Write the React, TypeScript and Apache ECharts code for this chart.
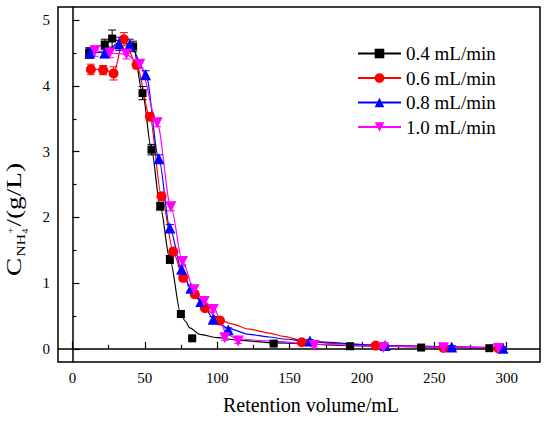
import React, { useEffect, useRef } from "react";
import * as echarts from "echarts";

const seriesNames = ["0.4 mL/min", "0.6 mL/min", "0.8 mL/min", "1.0 mL/min"];
const colors = ["#000000", "#ff0000", "#0000ff", "#ff00ff"];

const xTicks = [0, 50, 100, 150, 200, 250, 300];
const xMinorTicks = [25, 75, 125, 175, 225, 275];
const yTicks = [0, 1, 2, 3, 4, 5];
const yMinorTicks = [0.5, 1.5, 2.5, 3.5, 4.5];

// measured points [volume, concentration]
const pts04 = [[11.5, 4.5], [22.3, 4.63], [27.4, 4.72], [41.9, 4.6], [48.4, 3.89], [54.6, 3.03], [60.6, 2.17], [67.3, 1.36], [74.9, 0.53], [82.7, 0.16], [139, 0.08], [191.8, 0.04], [240.9, 0.02], [288, 0.01]];
const err04 = [0.08, 0.08, 0.13, 0.08, 0.1, 0.08, 0.06, 0.06, 0.05, 0.02, 0.02, 0.02, 0.01, 0.01];

const pts06 = [[12.7, 4.25], [21.2, 4.24], [28.4, 4.19], [35.5, 4.71], [44.3, 4.32], [53.5, 3.53], [61.5, 2.32], [69.6, 1.48], [76.5, 1.08], [84.5, 0.83], [91.5, 0.62], [101.9, 0.43], [158.4, 0.1], [209.5, 0.05], [256.3, 0.015], [294.3, 0.005]];
const err06 = [0.08, 0.07, 0.1, 0.1, 0.06, 0.06, 0.06, 0.05, 0.05, 0.05, 0.04, 0.04, 0.02, 0.02, 0.02, 0.02];

const pts08 = [[12, 4.5], [22.3, 4.5], [32.2, 4.64], [39.6, 4.63], [50.5, 4.17], [59.7, 2.89], [67.3, 1.84], [75.4, 1.21], [81.8, 0.92], [88.7, 0.72], [97.2, 0.45], [107.6, 0.29], [164, 0.12], [216, 0.05], [262, 0.03], [297.4, 0.01]];
const err08 = [0.07, 0.07, 0.1, 0.08, 0.06, 0.06, 0.05, 0.05, 0.04, 0.04, 0.04, 0.03, 0.02, 0.02, 0.02, 0.02];

const pts10 = [[15.4, 4.53], [25.8, 4.5], [37.3, 4.48], [46.5, 4.33], [58.5, 3.44], [68, 2.16], [76, 1.33], [84.1, 0.9], [91, 0.72], [97.2, 0.6], [105.3, 0.17], [114.5, 0.12], [167, 0.05], [214.8, 0.02], [256.3, 0.015], [294.3, 0.005]];
const err10 = [0.08, 0.07, 0.07, 0.06, 0.06, 0.06, 0.05, 0.05, 0.04, 0.04, 0.04, 0.04, 0.02, 0.02, 0.02, 0.02];

// fitted / guide curves
const fit04 = [[11.5, 4.5], [22.3, 4.63], [27.4, 4.72], [35, 4.65], [41.9, 4.61], [48.4, 3.89], [54.6, 3.03], [60.6, 2.17], [67.3, 1.36], [74.9, 0.53], [78, 0.42], [81, 0.32], [88, 0.22], [100, 0.17], [115, 0.13], [140, 0.09], [190, 0.05], [240, 0.03], [290, 0.015], [300, 0.012]];
const fit06 = [[12.7, 4.25], [21.2, 4.25], [28.4, 4.2], [35.5, 4.71], [44.3, 4.32], [53.5, 3.53], [61.5, 2.32], [70, 1.45], [76.5, 1.08], [84.5, 0.83], [91.5, 0.62], [102, 0.44], [110, 0.38], [122, 0.3], [136, 0.24], [146, 0.19], [158, 0.13], [180, 0.08], [210, 0.055], [255, 0.03], [300, 0.015]];
const fit08 = [[12, 4.51], [22.3, 4.51], [32.2, 4.66], [39.6, 4.63], [50.5, 4.2], [59.7, 2.89], [67.3, 1.84], [75.4, 1.21], [81.8, 0.92], [88.7, 0.72], [97.2, 0.47], [107.6, 0.31], [122, 0.22], [136, 0.18], [146, 0.15], [164, 0.11], [216, 0.05], [262, 0.03], [300, 0.015]];
const fit10 = [[15.4, 4.55], [25.8, 4.5], [37.3, 4.48], [46.5, 4.33], [58.5, 3.44], [68, 2.16], [76, 1.33], [84.1, 0.9], [91, 0.72], [98.4, 0.6], [103, 0.36], [106.5, 0.22], [114.5, 0.15], [136, 0.12], [167, 0.07], [215, 0.04], [256, 0.025], [300, 0.012]];

const allPts = [pts04, pts06, pts08, pts10];
const allErr = [err04, err06, err08, err10];
const allFit = [fit04, fit06, fit08, fit10];
const symbols = ["rect", "circle", "triangle", "triangle"];
const symbolSizes = [8, 10, 11, 11];
const symbolRotates = [0, 0, 0, 180];

const FONT = "Liberation Serif";

export default function App() {
  const ref = useRef<HTMLDivElement>(null);
  useEffect(() => {
    if (!ref.current) return;
    document.body.style.margin = "0";
    const chart = echarts.init(ref.current, null, { renderer: "svg" });

    const lineSeries = seriesNames.map((name, i) => ({
      type: "line",
      name,
      data: allFit[i],
      smooth: 0.3,
      smoothMonotone: "x",
      showSymbol: false,
      symbol: symbols[i],
      symbolRotate: symbolRotates[i],
      lineStyle: { color: colors[i], width: 1.2 },
      itemStyle: { color: colors[i] },
      z: 2,
      silent: true,
    }));

    const errSeries = seriesNames.map((name, i) => ({
      type: "custom",
      name,
      data: allPts[i].map((p, j) => [p[0], p[1], allErr[i][j]]),
      encode: { x: 0, y: 1 },
      z: 3,
      silent: true,
      renderItem: (params: any, api: any) => {
        const x = api.value(0);
        const y = api.value(1);
        const e = api.value(2);
        const t = api.coord([x, y + e]);
        const b = api.coord([x, y - e]);
        const w = 4;
        const st = { stroke: colors[i], lineWidth: 1 };
        return {
          type: "group",
          children: [
            { type: "line", shape: { x1: t[0], y1: t[1], x2: b[0], y2: b[1] }, style: st },
            { type: "line", shape: { x1: t[0] - w, y1: t[1], x2: t[0] + w, y2: t[1] }, style: st },
            { type: "line", shape: { x1: b[0] - w, y1: b[1], x2: b[0] + w, y2: b[1] }, style: st },
          ],
        };
      },
    }));

    const scatterSeries = seriesNames.map((name, i) => ({
      type: "scatter",
      name,
      data: allPts[i],
      symbol: symbols[i],
      symbolSize: symbolSizes[i],
      symbolRotate: symbolRotates[i],
      itemStyle: { color: colors[i], opacity: 1 },
      z: 4,
      silent: true,
    }));

    const interleaved: any[] = [];
    for (let i = 0; i < 4; i++) {
      interleaved.push(errSeries[i], scatterSeries[i]);
    }

    const option: any = {
      animation: false,
      backgroundColor: "#ffffff",
      textStyle: { fontFamily: FONT },
      grid: {
        left: 58,
        right: 10,
        top: 7,
        bottom: 62,
        show: true,
        borderColor: "#000",
        borderWidth: 1.5,
        backgroundColor: "transparent",
      },
      legend: {
        data: seriesNames,
        orient: "vertical",
        left: 352,
        top: 39,
        itemWidth: 43,
        itemHeight: 12,
        itemGap: 5.5,
        selectedMode: false,
        textStyle: { fontFamily: FONT, fontSize: 19, color: "#000" },
      },
      xAxis: [
        {
          type: "value",
          min: -10,
          max: 323,
          axisLine: { show: true, lineStyle: { color: "#000", width: 1.5 } },
          axisTick: { show: true, inside: true, length: 7, customValues: xTicks, lineStyle: { color: "#000", width: 1.2 } },
          axisLabel: { show: true, customValues: xTicks, margin: 8, fontFamily: FONT, fontSize: 15, color: "#000" },
          splitLine: { show: false },
        },
        {
          type: "value",
          position: "bottom",
          min: -10,
          max: 323,
          axisLine: { show: false },
          axisTick: { show: true, inside: true, length: 4, customValues: xMinorTicks, lineStyle: { color: "#000", width: 1.2 } },
          axisLabel: { show: false },
          splitLine: { show: false },
        },
      ],
      yAxis: [
        {
          type: "value",
          min: -0.2,
          max: 5.2,
          axisLine: { show: true, lineStyle: { color: "#000", width: 1.5 } },
          axisTick: { show: true, inside: true, length: 7, customValues: yTicks, lineStyle: { color: "#000", width: 1.2 } },
          axisLabel: { show: true, customValues: yTicks, margin: 8, fontFamily: FONT, fontSize: 15, color: "#000" },
          splitLine: { show: false },
        },
        {
          type: "value",
          position: "left",
          min: -0.2,
          max: 5.2,
          axisLine: { show: false },
          axisTick: { show: true, inside: true, length: 4, customValues: yMinorTicks, lineStyle: { color: "#000", width: 1.2 } },
          axisLabel: { show: false },
          splitLine: { show: false },
        },
      ],
      graphic: [
        {
          type: "text",
          x: 311,
          y: 405,
          style: {
            text: "Retention volume/mL",
            fontFamily: FONT,
            fontSize: 20,
            fill: "#000",
            align: "center",
            verticalAlign: "middle",
          },
        },
        {
          type: "group",
          x: 21,
          y: 276,
          rotation: Math.PI / 2,
          scaleX: 1.3,
          children: [
            { type: "text", x: 0, y: -7.4, style: { text: "C", fontFamily: FONT, fontSize: 21, fill: "#000", align: "left", verticalAlign: "middle" } },
            { type: "text", x: 15, y: 0.6, style: { text: "NH", fontFamily: FONT, fontSize: 12, fill: "#000", align: "left", verticalAlign: "middle" } },
            { type: "text", x: 32.5, y: 4.8, style: { text: "4", fontFamily: FONT, fontSize: 8, fill: "#000", align: "left", verticalAlign: "middle" } },
            { type: "text", x: 32.5, y: -11.5, style: { text: "+", fontFamily: FONT, fontSize: 9, fill: "#000", align: "left", verticalAlign: "middle" } },
            { type: "text", x: 38, y: -7.4, style: { text: "/(g/L)", fontFamily: FONT, fontSize: 21, fill: "#000", align: "left", verticalAlign: "middle" } },
          ],
        },
      ],
      series: [...lineSeries, ...interleaved],
    };

    chart.setOption(option);
    return () => chart.dispose();
  }, []);

  return <div ref={ref} style={{ position: "fixed", left: 0, top: 0, width: 550, height: 424 }} />;
}
